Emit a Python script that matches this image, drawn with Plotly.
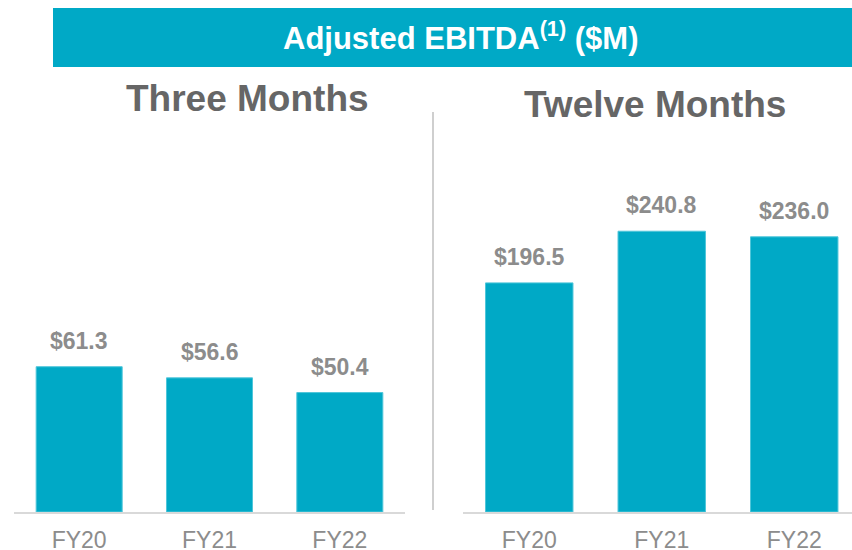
import plotly.graph_objects as go

categories = ["FY20", "FY21", "FY22"]
three_months = [61.3, 56.6, 50.4]
twelve_months = [196.5, 240.8, 236.0]
title_text = "Adjusted EBITDA<sup>(1)</sup> ($M)"
left_title = "Three Months"
right_title = "Twelve Months"

W, H = 852, 550
TEAL = "#00A9C6"
LABEL_GRAY = "#8C8C8C"
TITLE_GRAY = "#666666"
FONT = "Liberation Sans, Arial, sans-serif"

def px_x(p):
    return p / W

def px_y(p):
    return 1 - p / H

fig = go.Figure()
fig.add_trace(go.Bar(x=categories, y=three_months, width=0.66,
                     marker=dict(color=TEAL, line=dict(color="#4FC6DA", width=1)),
                     xaxis="x", yaxis="y", hoverinfo="skip"))
fig.add_trace(go.Bar(x=categories, y=twelve_months, width=0.66,
                     marker=dict(color=TEAL, line=dict(color="#4FC6DA", width=1)),
                     xaxis="x2", yaxis="y2", hoverinfo="skip"))

annotations = []
for c, v in zip(categories, three_months):
    annotations.append(dict(x=c, y=v, xref="x", yref="y", text=f"${v:.1f}",
                            showarrow=False, yanchor="bottom", yshift=11,
                            font=dict(family=FONT, size=23, color=LABEL_GRAY, weight="bold")))
for c, v in zip(categories, twelve_months):
    annotations.append(dict(x=c, y=v, xref="x2", yref="y2", text=f"${v:.1f}",
                            showarrow=False, yanchor="bottom", yshift=11,
                            font=dict(family=FONT, size=23, color=LABEL_GRAY, weight="bold")))

annotations.append(dict(x=px_x(460), y=px_y(36), xref="paper", yref="paper",
                        text=title_text, showarrow=False, xanchor="center", yanchor="middle",
                        font=dict(family=FONT, size=31, color="white", weight="bold")))
annotations.append(dict(x=px_x(248), y=px_y(98), xref="paper", yref="paper",
                        text=left_title, showarrow=False, xanchor="center", yanchor="middle",
                        font=dict(family=FONT, size=37, color=TITLE_GRAY, weight="bold")))
annotations.append(dict(x=px_x(655), y=px_y(104), xref="paper", yref="paper",
                        text=right_title, showarrow=False, xanchor="center", yanchor="middle",
                        font=dict(family=FONT, size=37, color=TITLE_GRAY, weight="bold")))

shapes = [
    dict(type="rect", xref="paper", yref="paper", x0=px_x(53), x1=1.0,
         y0=px_y(67), y1=px_y(8), fillcolor=TEAL, line=dict(width=0), layer="below"),
    dict(type="line", xref="paper", yref="paper", x0=px_x(433), x1=px_x(433),
         y0=px_y(510), y1=px_y(112), line=dict(color="#BFBFBF", width=1.5)),
]

axis_common = dict(showgrid=False, zeroline=False, ticks="", showline=True,
                   linecolor="#D9D9D9", linewidth=2, automargin=False,
                   tickfont=dict(family=FONT, size=23, color=LABEL_GRAY),
                   ticklabelstandoff=6, fixedrange=True)
yaxis_common = dict(showgrid=False, zeroline=False, showticklabels=False,
                    showline=False, automargin=False, fixedrange=True)

y_dom = [px_y(512), px_y(112)]

fig.update_layout(
    width=W, height=H,
    margin=dict(l=0, r=0, t=0, b=0, pad=0, autoexpand=False),
    paper_bgcolor="white", plot_bgcolor="white",
    showlegend=False,
    xaxis=dict(domain=[px_x(14), px_x(405)], range=[-0.5, 2.5], anchor="y", **axis_common),
    xaxis2=dict(domain=[px_x(463), 1.0], range=[-0.5, 2.436], anchor="y2", **axis_common),
    yaxis=dict(domain=y_dom, range=[0, 400 / 2.37], anchor="x", **yaxis_common),
    yaxis2=dict(domain=y_dom, range=[0, 400 / 1.166], anchor="x2", **yaxis_common),
    annotations=annotations,
    shapes=shapes,
)

post = (
    "document.documentElement.style.margin='0';"
    "document.documentElement.style.overflow='hidden';"
    "document.body.style.margin='0';"
    "document.body.style.overflow='hidden';"
)

fig.write_html("out.html", config={"displayModeBar": False}, post_script=post)
